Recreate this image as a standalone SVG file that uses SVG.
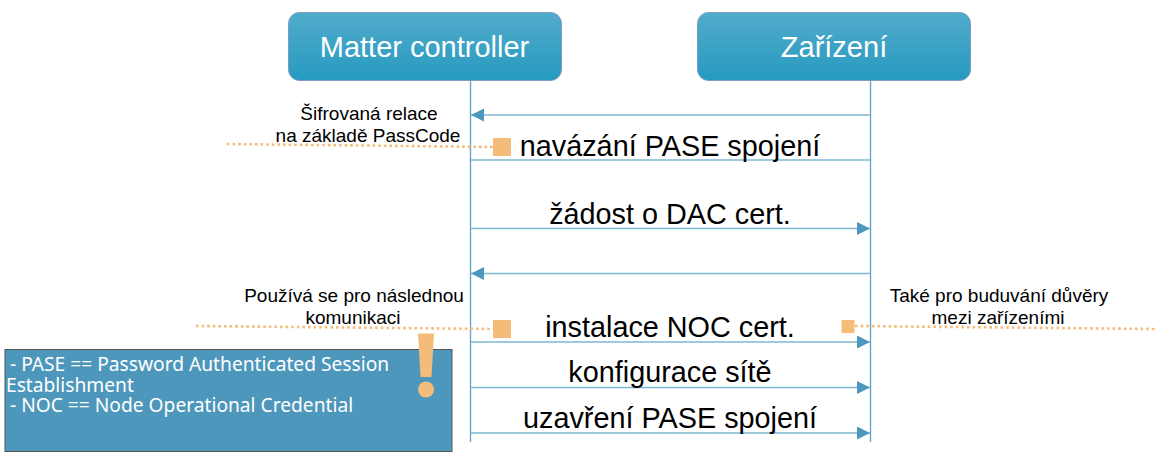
<svg xmlns="http://www.w3.org/2000/svg" width="1162" height="461" viewBox="0 0 1162 461">
<style>
text{font-family:"Liberation Sans",Arial,sans-serif;fill:#000;text-anchor:middle}
.head{font-size:29px;fill:#fff}
.msg{font-size:28.800px}
.note{font-size:19px}
.life{stroke:#62A9CB;stroke-width:1.4;fill:none}
.line{stroke:#7FB7D3;stroke-width:1.5;fill:none}
.dot{stroke:#F4BC7A;stroke-width:2.6;stroke-dasharray:2.6 3;fill:none}
.mark{fill:#F4BC7A}
.box{fill:url(#hg);stroke:#7F9CC0;stroke-width:1}
.legend{font-family:"Noto Sans","Open Sans",sans-serif;font-size:19.2px;fill:#fff;text-anchor:start}
</style>
<defs>
<linearGradient id="hg" x1="0" y1="0" x2="0" y2="1"><stop offset="0" stop-color="#52ABCB"/><stop offset="1" stop-color="#269AC0"/></linearGradient>
<marker id="arr" markerUnits="userSpaceOnUse" markerWidth="14" markerHeight="14" refX="13" refY="6.5" orient="auto"><path d="M0 0L13 6.5L0 13Z" fill="#4E97BC"/></marker>
</defs>
<g id="connectors">
<line class="life" x1="470.500" y1="80" x2="470.500" y2="442"/>
<line class="life" x1="870.500" y1="80" x2="870.500" y2="442"/>
<line class="line" x1="870" y1="115" x2="471" y2="115" marker-end="url(#arr)"/>
<line class="line" x1="471" y1="160" x2="870" y2="160"/>
<line class="line" x1="471" y1="228.500" x2="870" y2="228.500" marker-end="url(#arr)"/>
<line class="line" x1="870" y1="273.500" x2="471" y2="273.500" marker-end="url(#arr)"/>
<line class="line" x1="471" y1="342" x2="870" y2="342" marker-end="url(#arr)"/>
<line class="line" x1="471" y1="387.500" x2="870" y2="387.500" marker-end="url(#arr)"/>
<line class="line" x1="471" y1="433" x2="870" y2="433" marker-end="url(#arr)"/>
<line class="dot" x1="227" y1="144" x2="494" y2="147"/>
<line class="dot" x1="196" y1="326" x2="494" y2="329"/>
<line class="dot" x1="855" y1="326" x2="1155" y2="329"/>
</g>
<g id="matter-controller">
<rect class="box" x="288.500" y="12.500" width="273" height="68" rx="11"/>
<text class="head" x="424.500" y="56.500">Matter controller</text>
</g>
<g id="zarizeni">
<rect class="box" x="697.500" y="12.500" width="273" height="68" rx="11"/>
<text class="head" x="834" y="56.500">Zařízení</text>
</g>
<g id="msg-pase-open">
<rect class="mark" x="493" y="138" width="18" height="18"/>
<text class="msg" x="670" y="156">navázání PASE spojení</text>
</g>
<g id="msg-dac"><text class="msg" x="670" y="224">žádost o DAC cert.</text></g>
<g id="msg-noc">
<rect class="mark" x="493" y="320" width="18" height="18"/>
<text class="msg" x="670" y="337">instalace NOC cert.</text>
<rect class="mark" x="841.500" y="320" width="13" height="13"/>
</g>
<g id="msg-net"><text class="msg" x="670" y="382">konfigurace sítě</text></g>
<g id="msg-pase-close"><text class="msg" x="670" y="428">uzavření PASE spojení</text></g>
<g id="note-pase">
<text class="note" x="369" y="120">Šifrovaná relace</text>
<text class="note" x="368" y="142">na základě PassCode</text>
</g>
<g id="note-noc">
<text class="note" x="354" y="302">Používá se pro následnou</text>
<text class="note" x="353" y="324">komunikaci</text>
</g>
<g id="note-trust">
<text class="note" x="999" y="302">Také pro buduvání důvěry</text>
<text class="note" x="998" y="324">mezi zařízeními</text>
</g>
<g id="legend">
<rect x="5" y="349.500" width="447" height="102" fill="#4E97BC" stroke="#555" stroke-width="1"/>
<text class="legend" x="10" y="371">- PASE == Password Authenticated Session</text>
<text class="legend" x="6" y="391.500">Establishment</text>
<text class="legend" x="10" y="412">- NOC == Node Operational Credential</text>
</g>
<g id="alert">
<path class="mark" d="M418 333.500H434L431.500 377H420.500Z"/>
<circle class="mark" cx="426" cy="389.500" r="8"/>
</g>
</svg>
